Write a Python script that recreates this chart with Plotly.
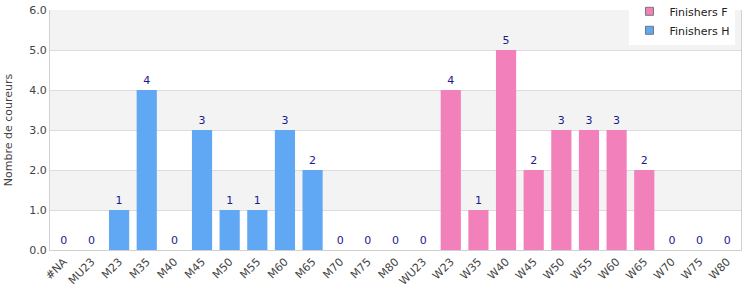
import plotly.graph_objects as go

categories = ["#NA", "MU23", "M23", "M35", "M40", "M45", "M50", "M55", "M60", "M65",
              "M70", "M75", "M80", "WU23", "W23", "W35", "W40", "W45", "W50", "W55",
              "W60", "W65", "W70", "W75", "W80"]
finishers_h = [0, 0, 1, 4, 0, 3, 1, 1, 3, 2, 0, 0, 0, 0,
               None, None, None, None, None, None, None, None, None, None, None]
finishers_f = [None] * 14 + [4, 1, 5, 2, 3, 3, 3, 2, 0, 0, 0]
y_ticks = [0, 1, 2, 3, 4, 5, 6]
band_ranges = [(1, 2), (3, 4), (5, 6)]

blue = "#60a8f3"
pink = "#f281bb"
text_color = "#1a1a8e"
font = "DejaVu Sans"

fig = go.Figure()
for name, vals, col in [("Finishers F", finishers_f, pink), ("Finishers H", finishers_h, blue)]:
    fig.add_trace(go.Bar(
        x=categories, y=vals, name=name, showlegend=False,
        marker=dict(color=col, line=dict(width=0)),
        text=[None if v is None else str(v) for v in vals],
        textposition="outside", cliponaxis=False,
        textfont=dict(color=text_color, size=11, family=font),
    ))
    # legend entry with small square swatch
    fig.add_trace(go.Scatter(
        x=[None], y=[None], mode="markers", name=name,
        marker=dict(symbol="square", size=8, color=col, line=dict(color="#777", width=1)),
    ))

shapes = []
for lo, hi in band_ranges:
    shapes.append(dict(type="rect", xref="paper", yref="y", x0=0, x1=1, y0=lo, y1=hi,
                       fillcolor="#f3f3f3", line=dict(width=0), layer="below"))

fig.update_layout(
    width=750, height=300,
    margin=dict(l=50, r=9, t=10, b=50, autoexpand=False),
    barmode="overlay", bargap=0.27,
    plot_bgcolor="white", paper_bgcolor="white",
    font=dict(family=font, size=11, color="#444"),
    shapes=shapes,
    showlegend=True,
    legend=dict(x=0.992, xanchor="right", y=1.055, yanchor="top",
                bgcolor="white", font=dict(size=11, color="#222", family=font),
                traceorder="normal", tracegroupgap=0, itemwidth=30),
    xaxis=dict(tickangle=-45, showline=True, linecolor="#d0d0d0", linewidth=1,
               ticks="", tickfont=dict(size=11, color="#444"),
               showgrid=False, fixedrange=True),
    yaxis=dict(range=[0, 6], tickvals=y_ticks, tickformat=".1f",
               showline=True, mirror=True, linecolor="#d0d0d0", linewidth=1,
               gridcolor="#dcdcdc", gridwidth=1, zeroline=False,
               tickfont=dict(size=11, color="#444"),
               title=dict(text="Nombre de coureurs", font=dict(size=11, color="#444"), standoff=14)),
)

fig.write_html("out.html")
